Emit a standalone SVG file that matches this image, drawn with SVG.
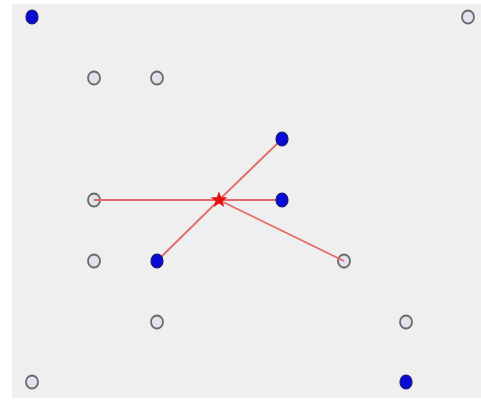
<svg xmlns="http://www.w3.org/2000/svg" width="481" height="400" viewBox="0 0 481 400">
<style>
.bg{fill:#efefef}
.blue{fill:#0a0ad6;stroke:#1a1a70;stroke-width:1.2}
.gray{fill:#e2e2ee;stroke:#6a6a6a;stroke-width:1.8}
.edge{stroke:#e46a6a;stroke-width:1.8;fill:none}
.star{fill:#e41010}
</style>
<rect width="481" height="400" fill="#ffffff"/>
<rect class="bg" x="12" y="4" width="469" height="394"/>
<g id="n2"><ellipse class="gray" cx="468" cy="17" rx="6" ry="6.5"/></g>
<g id="n3"><ellipse class="gray" cx="94" cy="78" rx="6" ry="6.5"/></g>
<g id="n4"><ellipse class="gray" cx="157" cy="78" rx="6" ry="6.5"/></g>
<g id="n6"><ellipse class="gray" cx="94" cy="200" rx="6" ry="6.5"/></g>
<g id="n8"><ellipse class="gray" cx="94" cy="261" rx="6" ry="6.5"/></g>
<g id="n10"><ellipse class="gray" cx="344" cy="261" rx="6" ry="6.5"/></g>
<g id="n11"><ellipse class="gray" cx="157" cy="322" rx="6" ry="6.5"/></g>
<g id="n12"><ellipse class="gray" cx="406" cy="322" rx="6" ry="6.5"/></g>
<g id="n13"><ellipse class="gray" cx="32" cy="382" rx="6" ry="6.5"/></g>
<g id="connectors">
<line class="edge" x1="219" y1="200" x2="94" y2="200"/>
<line class="edge" x1="219" y1="200" x2="282" y2="139"/>
<line class="edge" x1="219" y1="200" x2="282" y2="200"/>
<line class="edge" x1="219" y1="200" x2="157" y2="261"/>
<line class="edge" x1="219" y1="200" x2="344" y2="261"/>
</g>
<g id="n1"><ellipse class="blue" cx="32" cy="17" rx="6" ry="7"/></g>
<g id="n5"><ellipse class="blue" cx="282" cy="139" rx="6" ry="7"/></g>
<g id="n7"><ellipse class="blue" cx="282" cy="200" rx="6" ry="7"/></g>
<g id="n9"><ellipse class="blue" cx="157" cy="261" rx="6" ry="7"/></g>
<g id="n14"><ellipse class="blue" cx="406" cy="382" rx="6" ry="7"/></g>
<g id="center"><polygon class="star" points="219,191.5 221.2,197.3 227.5,197.3 222.4,201 224.3,207 219,203.4 213.7,207 215.6,201 210.5,197.3 216.8,197.3"/></g>
</svg>
